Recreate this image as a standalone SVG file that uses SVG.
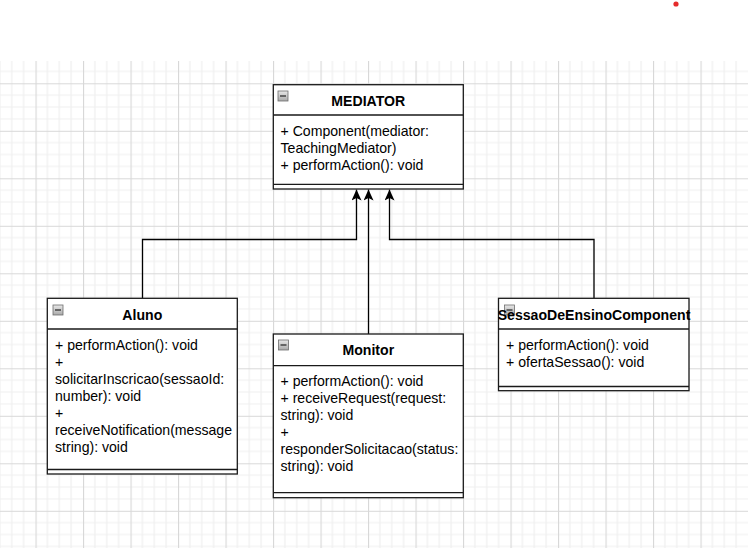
<svg xmlns="http://www.w3.org/2000/svg" width="748" height="548" viewBox="0 0 748 548">
<style>
.box{fill:#fff;stroke:#1a1a1a;stroke-width:1.3}
.sep{stroke:#1a1a1a;stroke-width:1.3;fill:none}
.title{font-family:"Liberation Sans",Arial,sans-serif;font-size:14.1px;font-weight:bold;fill:#000;text-anchor:middle}
.body{font-family:"Liberation Sans",Arial,sans-serif;font-size:14.1px;fill:#000}
.edge{fill:none;stroke:#000;stroke-width:1.3}
.ico{fill:url(#icoG);stroke:#6d6d6d;stroke-width:0.8}
.icoLine{stroke:#3a3a3a;stroke-width:1.4}
</style>
<defs>
<pattern id="grid" patternUnits="userSpaceOnUse" x="35.5" y="83.3" width="47.5" height="47.5">
<rect width="47.5" height="47.5" fill="#fff"/>
<path d="M11.875 0V47.5M23.75 0V47.5M35.625 0V47.5M0 11.875H47.5M0 23.75H47.5M0 35.625H47.5" stroke="#efefef" stroke-width="1.2"/>
<path d="M0.5 0V47.5M0 0.5H47.5" stroke="#d8d8d8" stroke-width="1.2"/>
</pattern>
<linearGradient id="icoG" x1="0" y1="0" x2="0" y2="1">
<stop offset="0" stop-color="#e8e8e8"/>
<stop offset="1" stop-color="#a9a9a9"/>
</linearGradient>
<marker id="arr" viewBox="0 0 11 10" refX="11" refY="5" markerWidth="11" markerHeight="10" markerUnits="userSpaceOnUse" orient="auto">
<path d="M0,0 L11,5 L0,10 L2.5,5 z" fill="#000"/>
</marker>
</defs>
<rect width="748" height="548" fill="#fff"/>
<rect x="0" y="61" width="748" height="487" fill="url(#grid)"/>
<circle cx="676" cy="4" r="2.6" fill="#e52b2b"/>

<g id="connectors">
<path class="edge" d="M142.5 298V239.5H356.5V189.5" marker-end="url(#arr)"/>
<path class="edge" d="M368.5 334V189.5" marker-end="url(#arr)"/>
<path class="edge" d="M594 298V239.5H389.5V189.5" marker-end="url(#arr)"/>
</g>

<g id="mediator">
<rect class="box" x="273.3" y="84.7" width="190" height="104.3"/>
<path class="sep" d="M273.3 115H463.3M273.3 184.3H463.3"/>
<rect class="ico" x="278" y="91" width="10" height="10"/>
<path class="icoLine" d="M280 96H286"/>
<text class="title" x="368.3" y="106">MEDIATOR</text>
<text class="body" x="280.5" y="135.5">+ Component(mediator:</text>
<text class="body" x="280.5" y="152.5">TeachingMediator)</text>
<text class="body" x="280.5" y="169.5">+ performAction(): void</text>
</g>

<g id="aluno">
<rect class="box" x="47.3" y="298.3" width="190" height="175.7"/>
<path class="sep" d="M47.3 329H237.3M47.3 469.5H237.3"/>
<rect class="ico" x="53" y="305" width="10" height="10"/>
<path class="icoLine" d="M55 310H61"/>
<text class="title" x="142.3" y="320">Aluno</text>
<text class="body" x="55" y="349.5">+ performAction(): void</text>
<text class="body" x="55" y="366.5">+</text>
<text class="body" x="55" y="383.5">solicitarInscricao(sessaoId:</text>
<text class="body" x="55" y="400.5">number): void</text>
<text class="body" x="55" y="417.5">+</text>
<text class="body" x="55" y="434.5">receiveNotification(message</text>
<text class="body" x="55" y="451.5">string): void</text>
</g>

<g id="monitor">
<rect class="box" x="273.3" y="334" width="190" height="163.7"/>
<path class="sep" d="M273.3 365.7H463.3M273.3 492.7H463.3"/>
<rect class="ico" x="278.5" y="340" width="10" height="10"/>
<path class="icoLine" d="M280.5 345H286.5"/>
<text class="title" x="368.3" y="355">Monitor</text>
<text class="body" x="280.5" y="385.5">+ performAction(): void</text>
<text class="body" x="280.5" y="402.5">+ receiveRequest(request:</text>
<text class="body" x="280.5" y="419.5">string): void</text>
<text class="body" x="280.5" y="436.5">+</text>
<text class="body" x="280.5" y="453.5">responderSolicitacao(status:</text>
<text class="body" x="280.5" y="470.5">string): void</text>
</g>

<g id="sessao">
<rect class="box" x="498.5" y="298.3" width="190.5" height="92.4"/>
<path class="sep" d="M498.5 329H689M498.5 386.5H689"/>
<rect class="ico" x="504.5" y="305" width="10" height="10"/>
<path class="icoLine" d="M506.5 310H512.5"/>
<text class="title" x="594" y="320">SessaoDeEnsinoComponent</text>
<text class="body" x="506" y="349.5">+ performAction(): void</text>
<text class="body" x="506" y="366.5">+ ofertaSessao(): void</text>
</g>
</svg>
